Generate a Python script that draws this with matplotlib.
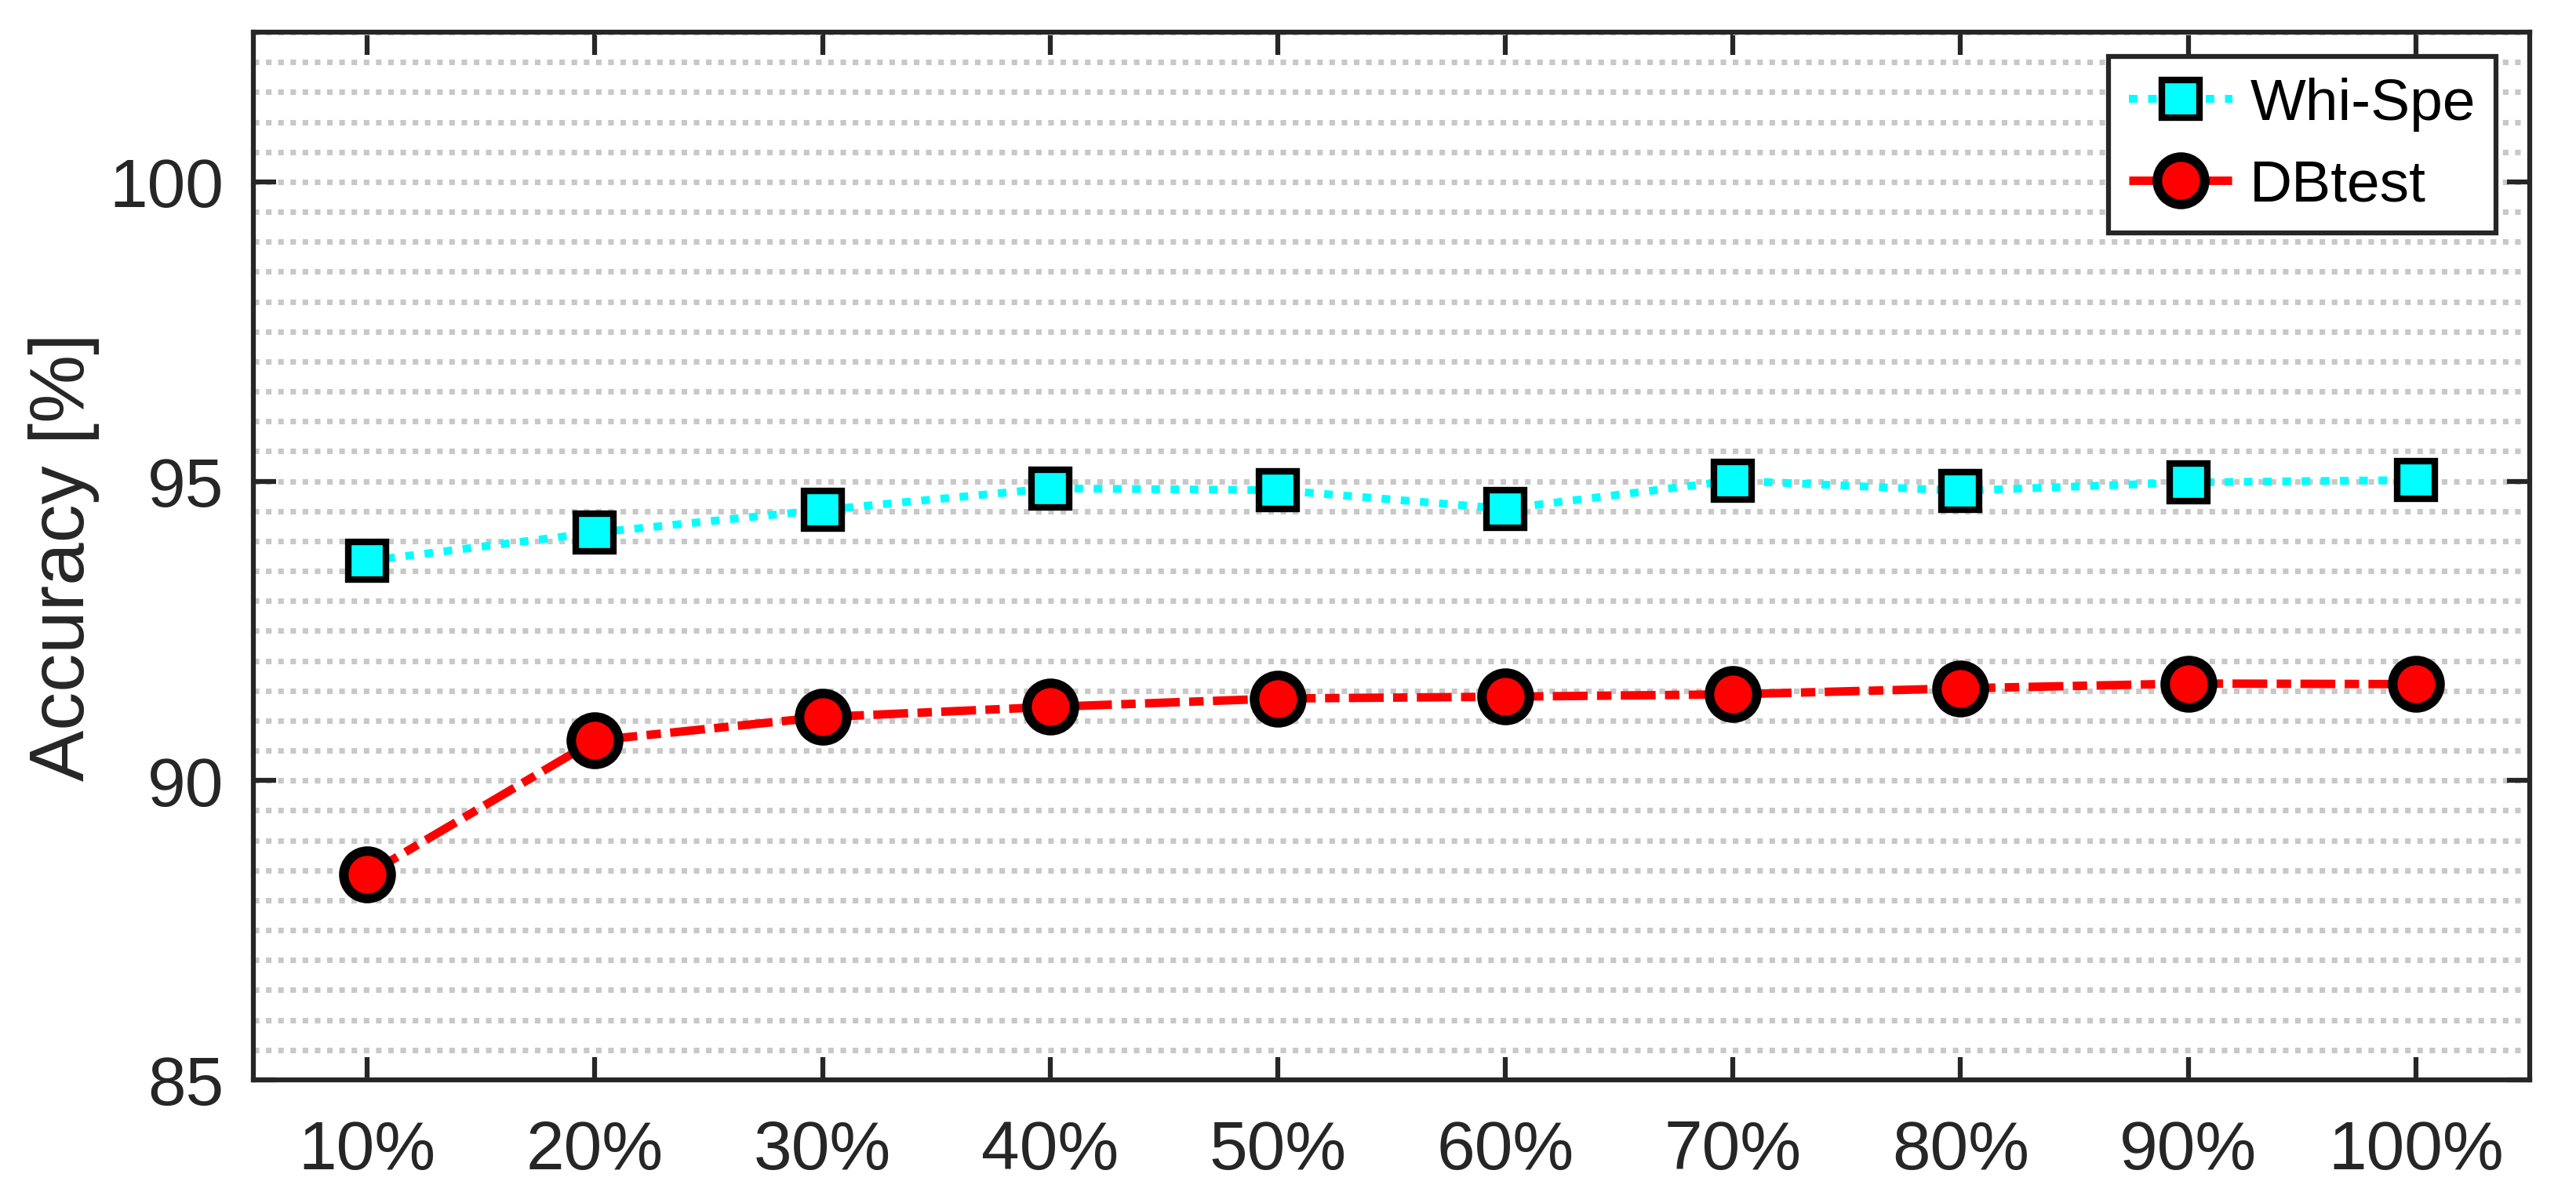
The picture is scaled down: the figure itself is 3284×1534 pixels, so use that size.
"""
Accuracy vs. training data fraction: Whi-Spe and DBtest.
"""

import matplotlib
matplotlib.use("Agg")
import matplotlib.pyplot as plt
import numpy as np

plt.rcParams['font.family'] = ['Liberation Sans', 'DejaVu Sans']

# data
fractions = ['10%', '20%', '30%', '40%', '50%', '60%', '70%', '80%', '90%', '100%']
whi_spe = [93.67, 94.14, 94.52, 94.88, 94.85, 94.54, 95.01, 94.84, 94.98, 95.02]
dbtest = [88.43, 90.67, 91.06, 91.23, 91.37, 91.40, 91.44, 91.54, 91.62, 91.61]
y_ticks = [85, 90, 95, 100]

ink = '#262626'
x = np.arange(1, len(fractions) + 1)

fig = plt.figure(figsize=(3284 / 300, 1535 / 300), dpi=300)
ax = fig.add_axes([0.0984, 0.1023, 0.982 - 0.0984, 0.9726 - 0.1023])

# dotted horizontal grid every 0.5
ax.set_yticks(np.arange(85, 102.6, 0.5), minor=True)
ax.grid(axis='y', which='both', color='#c8c8c8', linestyle=(0, (1, 1.2)),
        linewidth=1.7)
ax.set_axisbelow(True)

ax.plot(x, whi_spe, linestyle=(0, (1.1, 1.35)), color='cyan', linewidth=2.4,
        marker='s', markersize=11.5, markerfacecolor='cyan',
        markeredgecolor='black', markeredgewidth=2.0, label='Whi-Spe')
ax.plot(x, dbtest, linestyle=(0, (4.1, 1.1, 1.7, 1.1)), color='red',
        linewidth=2.6, marker='o', markersize=14.5, markerfacecolor='red',
        markeredgecolor='black', markeredgewidth=2.9, label='DBtest')

ax.set_xlim(0.5, 10.5)
ax.set_ylim(85, 102.5)
ax.set_xticks(x)
ax.set_xticklabels(fractions)
ax.set_yticks(y_ticks)

for side in ax.spines.values():
    side.set_linewidth(1.5)
    side.set_color(ink)

ax.tick_params(axis='both', which='major', direction='in', length=7,
               width=1.5, color=ink, labelcolor=ink, labelsize=21,
               top=True, right=True)
ax.tick_params(axis='x', pad=12)
ax.tick_params(axis='y', pad=9)
ax.tick_params(which='minor', length=0, left=False, right=False)

ax.set_ylabel('Accuracy [%]', fontsize=23.5, color=ink, labelpad=3)

leg = ax.legend(loc='upper right', bbox_to_anchor=(0.9852, 0.9768),
                borderaxespad=0, fontsize=18, frameon=True, fancybox=False,
                edgecolor=ink, framealpha=1,
                handlelength=1.75, handletextpad=0.3, labelspacing=0.46,
                borderpad=0.35)
leg.get_frame().set_linewidth(1.5)

fig.savefig('out.png', dpi=300)
plt.close(fig)
